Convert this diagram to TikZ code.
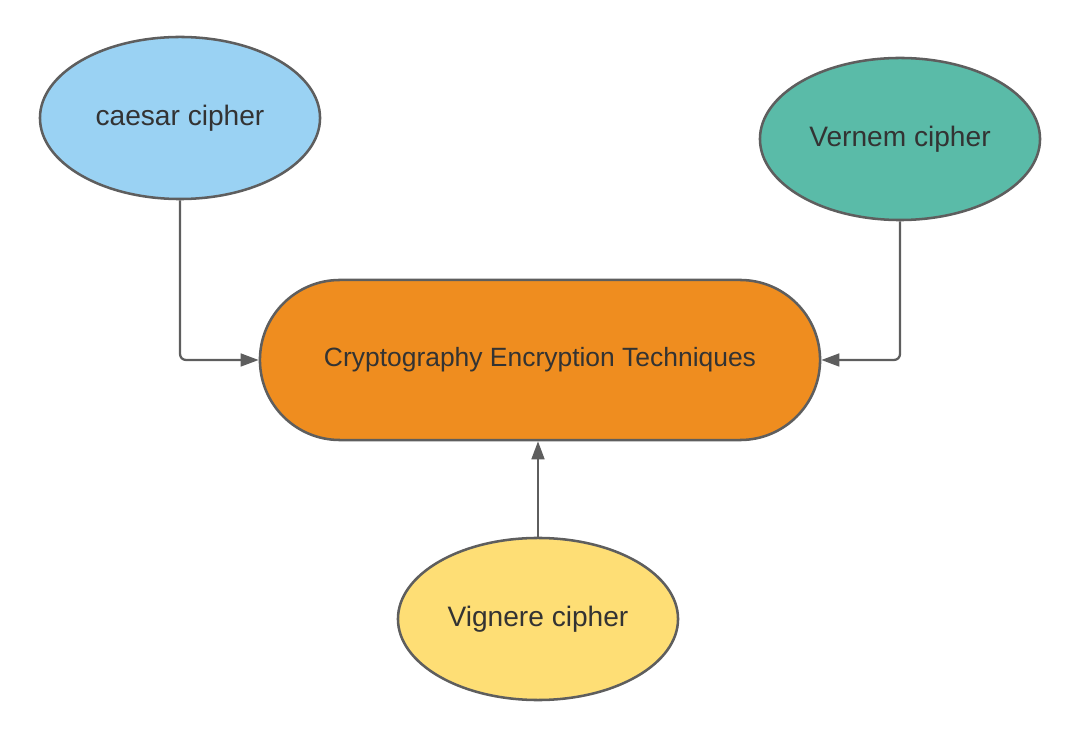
\documentclass[tikz,border=0pt]{standalone}
\usepackage{fontspec}
\setmainfont{Liberation Sans}
\usetikzlibrary{positioning}
\usetikzlibrary{shapes,arrows.meta}

\definecolor{caesarblue}{HTML}{9AD2F3}
\definecolor{vernemgreen}{HTML}{5ABBA8}
\definecolor{cryptoorange}{HTML}{EF8D1F}
\definecolor{vigyellow}{HTML}{FEDE75}
\definecolor{edgegray}{HTML}{5E5E5E}
\definecolor{textgray}{HTML}{333333}

\tikzset{
  cipher/.style={ellipse,draw=edgegray,line width=1.8pt,minimum width=7cm,
    minimum height=4.05cm,text=textgray,font=\fontsize{20}{24}\selectfont},
  conn/.style={-{Triangle[length=0.45cm,width=0.32cm]},draw=edgegray,
    line width=1.6pt,rounded corners=0.15cm}
}

\begin{document}
\begin{tikzpicture}[x=0.025cm,y=-0.025cm]
        \useasboundingbox (0,0) rectangle (1080,740);

        % centre
        \node[rectangle,draw=edgegray,fill=cryptoorange,line width=1.8pt,
            rounded corners=2cm,minimum width=14cm,minimum height=4cm,
            text=textgray,font=\fontsize{18.8}{22}\selectfont]
            (crypto) at (540,360) {Cryptography Encryption Techniques};

        % ciphers
        \node[cipher,fill=caesarblue] (caesar) at (180,118) {caesar cipher};
        \node[cipher,fill=vernemgreen] (vernem) at (900,139) {Vernem cipher};
        \node[cipher,fill=vigyellow] (vignere) at (538,619) {Vignere cipher};

        \draw[conn] (caesar.south) |- (crypto.west);
        \draw[conn] (vernem.south) |- (crypto.east);
        \draw[conn] (vignere.north) -- (vignere.north |- crypto.south);

    \end{tikzpicture}
\end{document}
